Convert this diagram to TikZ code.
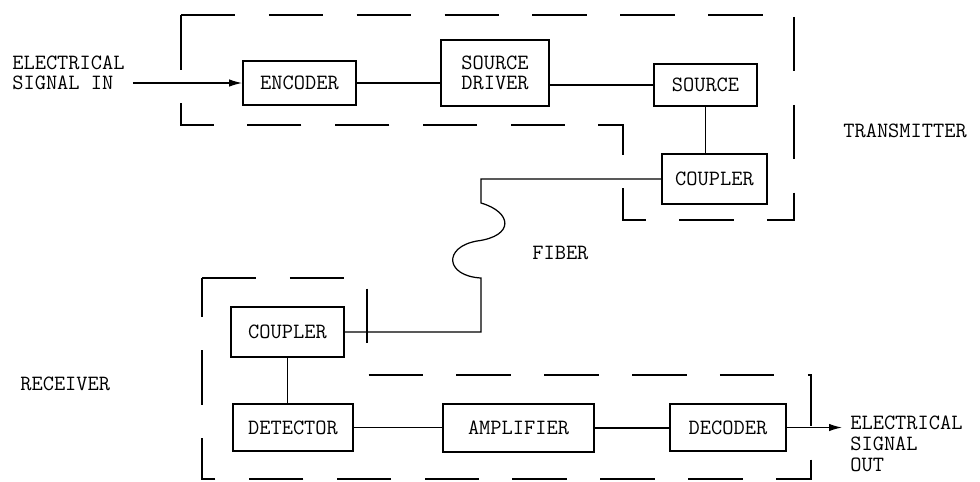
\documentclass[tikz,border=0pt]{standalone}
\usepackage{fontspec}
\usetikzlibrary{arrows.meta}
\newcommand{\diagfont}{\fontsize{12.4}{11.2}\selectfont\ttfamily}
\newcommand{\outfont}{\fontsize{12.4}{12}\selectfont\ttfamily}

\begin{document}
\begin{tikzpicture}[x=0.02cm, y=-0.02cm,
        box/.style={draw, line width=1.1pt, align=center, inner sep=0pt, font=\diagfont},
        lbl/.style={align=left, inner sep=0pt, anchor=west, font=\diagfont},
        wire/.style={line width=0.7pt},
        arrow/.style={wire, -{Latex[length=2.6mm, width=1.5mm]}},
        frame/.style={line width=0.7pt, dash pattern=on 31pt off 19pt}
      ]
        \useasboundingbox (0,0) rectangle (980,481);

        \node[box, minimum width=2.26cm, minimum height=0.88cm] (enc)  at (299.5,83)  {ENCODER};
        \node[box, minimum width=2.16cm, minimum height=1.32cm] (drv)  at (495,73)    {SOURCE\\DRIVER};
        \node[box, minimum width=2.06cm, minimum height=0.84cm] (src)  at (705.5,85)  {SOURCE};
        \node[box, minimum width=2.1cm,  minimum height=1cm]    (tcpl) at (714.5,179) {COUPLER};
        \node[box, minimum width=2.26cm, minimum height=1cm]    (rcpl) at (287.5,332) {COUPLER};
        \node[box, minimum width=2.4cm,  minimum height=0.94cm] (det)  at (293,427.5) {DETECTOR};
        \node[box, minimum width=3.02cm, minimum height=0.96cm] (amp)  at (518.5,428) {AMPLIFIER};
        \node[box, minimum width=2.32cm, minimum height=0.94cm] (dec)  at (728,427.5) {DECODER};

        \node[lbl] (in)  at (12,72.5)   {ELECTRICAL\\SIGNAL IN};
        \node[lbl, font=\outfont] (out) at (850,444) {ELECTRICAL\\SIGNAL\\OUT};
        \node[lbl] (tx)  at (843,130.5) {TRANSMITTER};
        \node[lbl] (rx)  at (20,384)    {RECEIVER};
        \node[lbl] (fib) at (532,252.5) {FIBER};

        \draw[frame] (181,15) -- (794,15) -- (794,220) -- (623,220) -- (623,125) -- (181,125) -- cycle;
        \draw[frame] (202,278) -- (367,278) -- (367,375) -- (811,375) -- (811,479) -- (202,479) -- cycle;

        \draw[arrow, shorten <=0.16cm] (in.east |- enc.west) -- (enc.west);
        \draw[wire] (enc.east) -- (enc.east -| drv.west);
        \draw[wire] (src.west -| drv.east) -- (src.west);
        \draw[wire] (src.south) -- (src.south |- tcpl.north);
        \draw[wire] (tcpl.west) -| (481,203)
            .. controls (512,212) and (515,236) .. (477,241)
            .. controls (443,247) and (445,276) .. (481,278) |- (rcpl.east);
        \draw[wire] (rcpl.south) -- (rcpl.south |- det.north);
        \draw[wire] (det.east) -- (det.east -| amp.west);
        \draw[wire] (amp.east) -- (amp.east -| dec.west);
        \draw[arrow, shorten >=0.16cm] (dec.east) -- (dec.east -| out.west);
      \end{tikzpicture}
\end{document}
